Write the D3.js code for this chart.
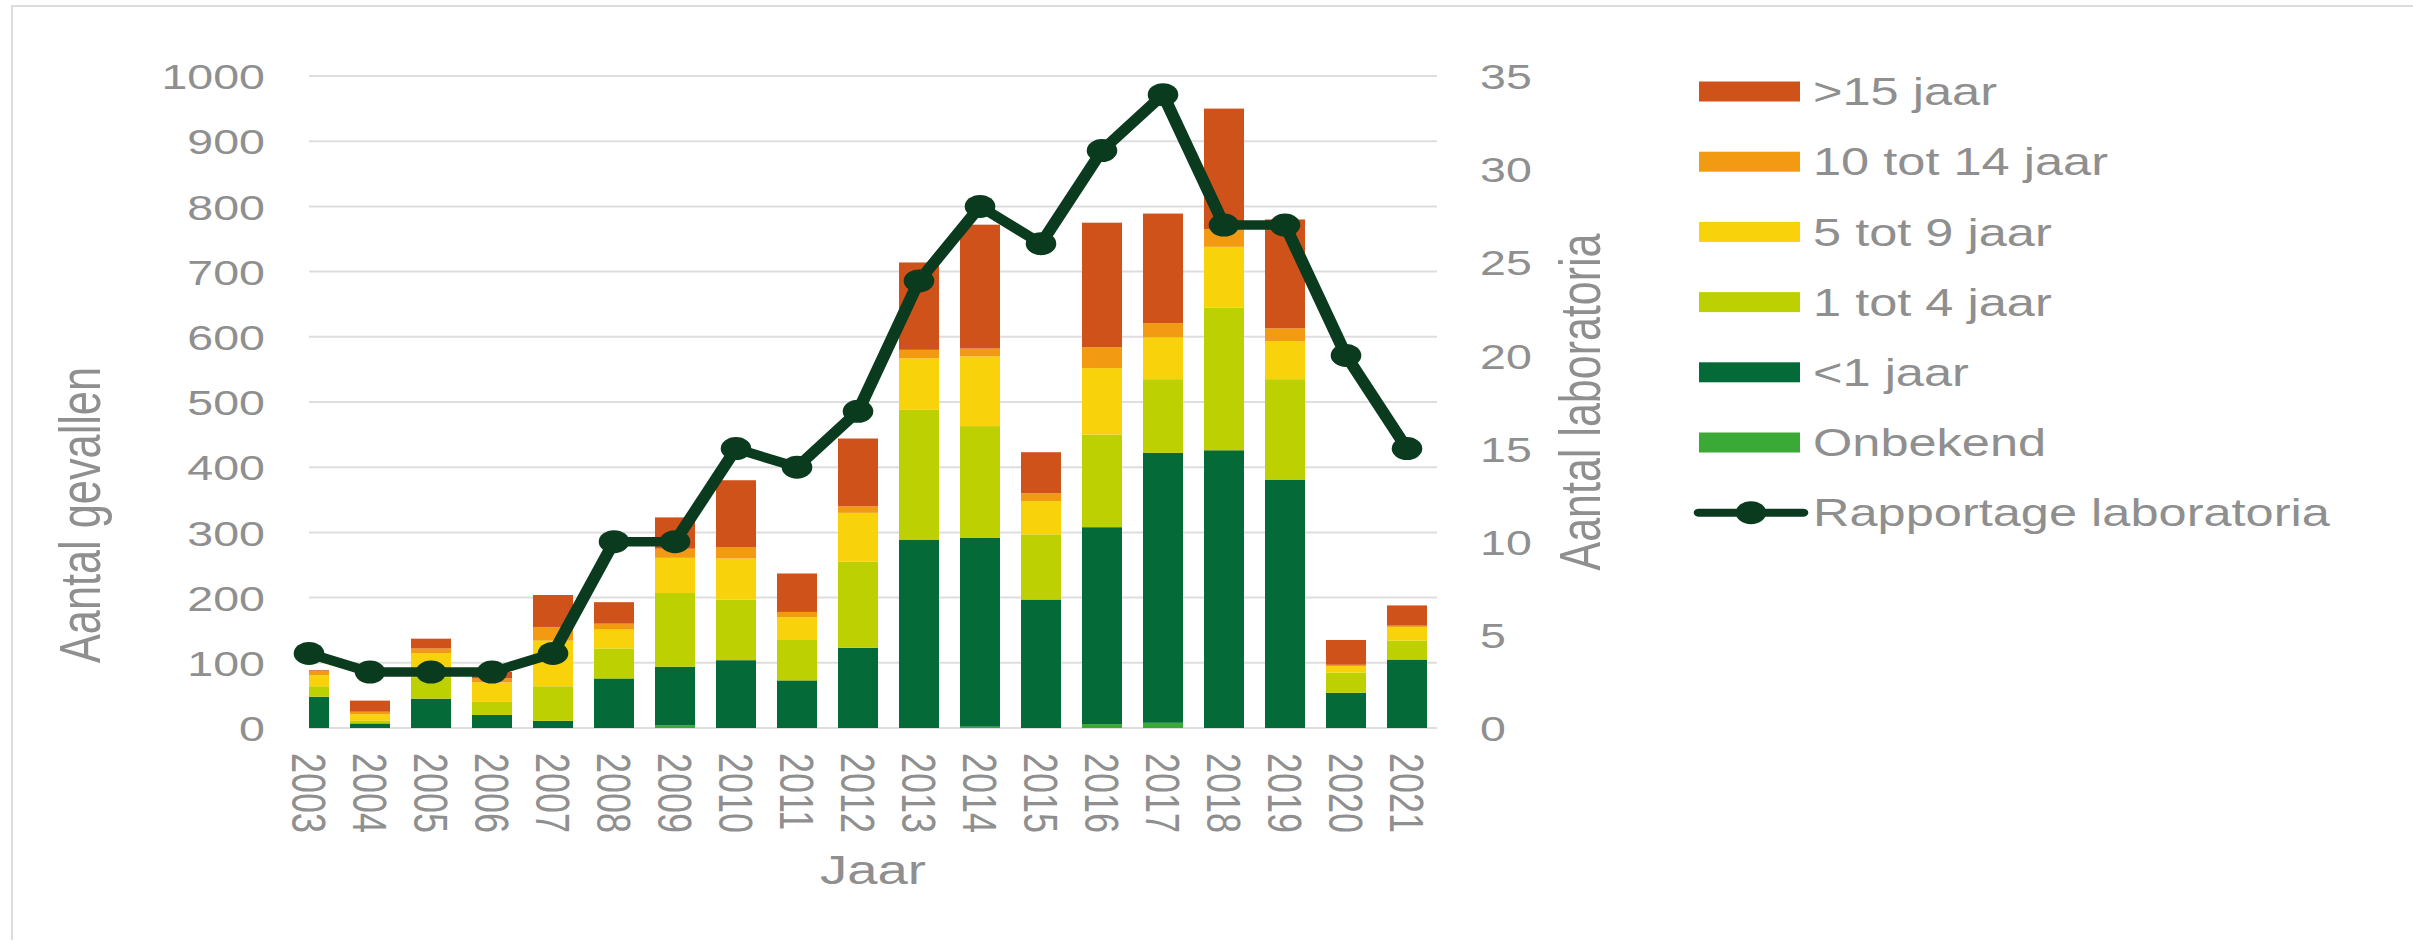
<!DOCTYPE html>
<html><head><meta charset="utf-8">
<script src="https://cdn.jsdelivr.net/npm/d3@7"></script>
<style>
body{margin:0;background:#fff;}
text{font-family:"Liberation Sans",Arial,sans-serif;}
</style>
</head><body>
<svg id="chart" width="2413" height="943"></svg>
<script>
// ---- data ----
const years = ["2003","2004","2005","2006","2007","2008","2009","2010","2011","2012","2013","2014","2015","2016","2017","2018","2019","2020","2021"];
const onbekend = [0,0,0,0,0,0,4,0,0,0,0,2,0,6,8,0,0,0,0];
const lt1      = [48,7,45,20,11,76,90,104,73,123,289,290,197,302,414,426,381,54,105];
const j1tot4   = [16,4,33,20,53,46,113,93,62,132,199,171,100,142,113,219,154,31,29];
const j5tot9   = [17,10,37,30,70,29,54,63,35,75,79,107,51,102,64,93,58,10,21];
const j10tot14 = [7,4,7,6,21,9,14,17,8,10,13,12,12,32,22,27,20,2,2];
const gt15     = [1,17,15,10,49,33,48,103,59,104,134,190,63,191,168,185,167,38,31];
const laboratoria = [4,3,3,3,4,10,10,15,14,17,24,28,26,31,34,27,27,20,15];
const leftTicks = [0,100,200,300,400,500,600,700,800,900,1000];
const rightTicks = [0,5,10,15,20,25,30,35];
const seriesKeys = ["onbekend","lt1","j1tot4","j5tot9","j10tot14","gt15"];
const seriesNames = {onbekend:"Onbekend",lt1:"<1 jaar",j1tot4:"1 tot 4 jaar",j5tot9:"5 tot 9 jaar",j10tot14:"10 tot 14 jaar",gt15:">15 jaar"};
const lineName = "Rapportage laboratoria";
const colors = {onbekend:"#3aa935",lt1:"#046a38",j1tot4:"#bdd002",j5tot9:"#f8d30b",j10tot14:"#f29b12",gt15:"#cf521a"};
const lineColor = "#0a3b1f";
const textColor = "#8f8f8f";

// ---- table ----
const table = years.map((yr,i)=>({year:yr,onbekend:onbekend[i],lt1:lt1[i],j1tot4:j1tot4[i],j5tot9:j5tot9[i],j10tot14:j10tot14[i],gt15:gt15[i],lab:laboratoria[i]}));

const SX = 1.33;
const ix = v => v / SX;
const svg = d3.select("#chart");
svg.append("rect").attr("width",2413).attr("height",943).attr("fill","#fff");
svg.append("path").attr("d","M12,940 L12,6 L2413,6").attr("fill","none").attr("stroke","#dcdcdc").attr("stroke-width",2);

const g = svg.append("g").attr("transform",`scale(${SX},1)`);

const x = d3.scaleBand().domain(years).range([ix(278.5), ix(1437.5)]).paddingInner(0.344).paddingOuter(0.172);
const y = d3.scaleLinear().domain([0,1000]).range([728,76]);
const yR = d3.scaleLinear().domain([0,35]).range([728,76]);
const plotL = ix(309), plotR = ix(1437);

// gridlines
g.append("g").selectAll("line").data(leftTicks).join("line")
  .attr("x1",plotL).attr("x2",plotR)
  .attr("y1",d=>y(d)).attr("y2",d=>y(d))
  .attr("stroke","#dedede").attr("stroke-width",2);

// clip
svg.append("defs").append("clipPath").attr("id","plotclip")
  .append("rect").attr("x",plotL).attr("y",0).attr("width",plotR-plotL+5).attr("height",740);

// bars
const stacked = d3.stack().keys(seriesKeys)(table);
g.append("g").attr("clip-path","url(#plotclip)")
  .selectAll("g").data(stacked).join("g").attr("fill",d=>colors[d.key])
  .selectAll("rect").data(d=>d).join("rect")
  .attr("x",d=>x(d.data.year)).attr("width",x.bandwidth())
  .attr("y",d=>y(d[1])).attr("height",d=>Math.max(0,y(d[0])-y(d[1])));

// line
const cx = d => x(d.year) + x.bandwidth()/2;
g.append("path").datum(table)
  .attr("fill","none").attr("stroke",lineColor).attr("stroke-width",9.5)
  .attr("stroke-linejoin","round").attr("stroke-linecap","round")
  .attr("d",d3.line().x(cx).y(d=>yR(d.lab)));
g.append("g").selectAll("circle").data(table).join("circle")
  .attr("cx",cx).attr("cy",d=>yR(d.lab)).attr("r",11.5).attr("fill",lineColor);

// left axis
const axL = g.append("g").attr("transform",`translate(${ix(265)},0)`)
  .call(d3.axisLeft(y).tickValues(leftTicks).tickFormat(d3.format("d")).tickSize(0).tickPadding(0));
axL.select(".domain").remove();
axL.selectAll("text").attr("font-size",35).attr("fill",textColor).attr("dy","0.36em")
  .style("font-family","'Liberation Sans',Arial,sans-serif");

// right axis
const axR = g.append("g").attr("transform",`translate(${ix(1480)},0)`)
  .call(d3.axisRight(yR).tickValues(rightTicks).tickFormat(d3.format("d")).tickSize(0).tickPadding(0));
axR.select(".domain").remove();
axR.selectAll("text").attr("font-size",35).attr("fill",textColor).attr("dy","0.36em")
  .style("font-family","'Liberation Sans',Arial,sans-serif");

// x axis
const axB = g.append("g").attr("transform",`translate(0,753)`)
  .call(d3.axisBottom(x).tickSize(0).tickPadding(0));
axB.select(".domain").remove();
axB.selectAll("text").attr("font-size",36).attr("fill",textColor)
  .attr("x",0).attr("y",0).attr("dy","0.36em")
  .attr("text-anchor","start").attr("transform","rotate(90)")
  .style("font-family","'Liberation Sans',Arial,sans-serif");

// axis titles
g.append("text").attr("transform",`translate(${ix(100)},515) rotate(-90)`)
  .attr("text-anchor","middle").attr("font-size",43.3).attr("fill",textColor).text("Aantal gevallen");
g.append("text").attr("transform",`translate(${ix(1600)},402) rotate(-90)`)
  .attr("text-anchor","middle").attr("font-size",43).attr("fill",textColor).text("Aantal laboratoria");
g.append("text").attr("x",ix(873)).attr("y",884)
  .attr("text-anchor","middle").attr("font-size",41).attr("fill",textColor).text("Jaar");

// legend
const legendKeys = ["gt15","j10tot14","j5tot9","j1tot4","lt1","onbekend"];
const lg = g.append("g");
const rowY = i => 91.5 + i*70.2;
legendKeys.forEach((k,i)=>{
  lg.append("rect").attr("x",ix(1699)).attr("y",rowY(i)-10).attr("width",ix(1800)-ix(1699)).attr("height",20).attr("fill",colors[k]);
  lg.append("text").attr("x",ix(1813)).attr("y",rowY(i)).attr("dy","0.36em").attr("font-size",38).attr("fill",textColor).text(seriesNames[k]);
});
const li = legendKeys.length;
lg.append("line").attr("x1",ix(1699)).attr("x2",ix(1803)).attr("y1",rowY(li)).attr("y2",rowY(li))
  .attr("stroke",lineColor).attr("stroke-width",8).attr("stroke-linecap","round");
lg.append("circle").attr("cx",ix(1751)).attr("cy",rowY(li)).attr("r",11.5).attr("fill",lineColor);
lg.append("text").attr("x",ix(1813)).attr("y",rowY(li)).attr("dy","0.36em").attr("font-size",38).attr("fill",textColor).text(lineName);
</script>
</body></html>
